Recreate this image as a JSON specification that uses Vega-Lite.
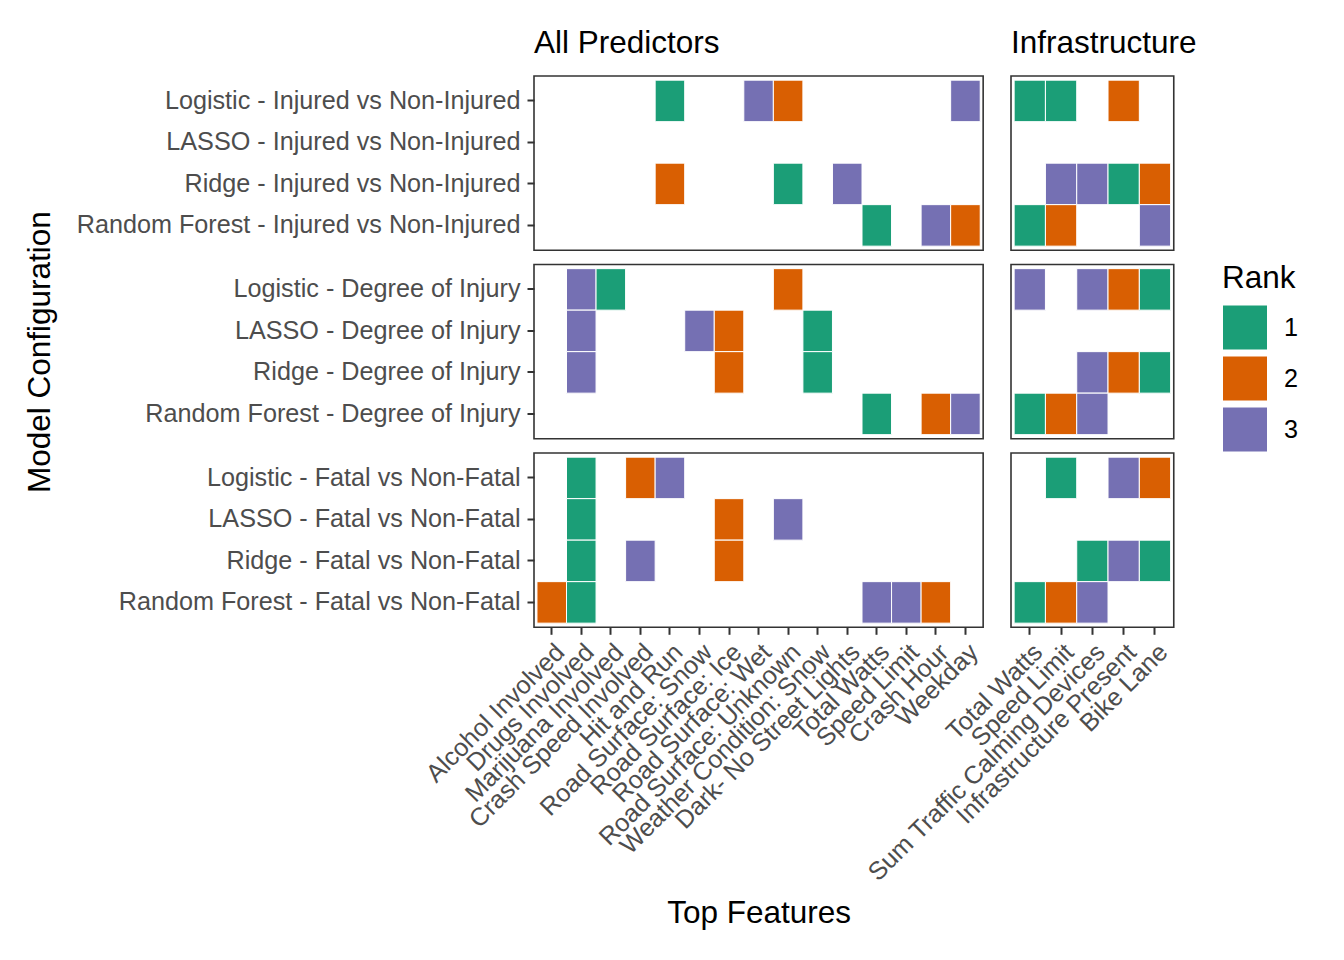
{
  "$schema": "https://vega.github.io/schema/vega-lite/v6.json",
  "padding": {"left": 23, "top": 26, "right": 5, "bottom": 5},
  "background": "white",
  "datasets": {
    "ranks": [
      {"Set": "All Predictors", "Outcome": "Injured vs Non-Injured", "Config": "Logistic - Injured vs Non-Injured", "Feature": "Hit and Run", "Rank": 1},
      {"Set": "All Predictors", "Outcome": "Injured vs Non-Injured", "Config": "Logistic - Injured vs Non-Injured", "Feature": "Road Surface: Wet", "Rank": 3},
      {"Set": "All Predictors", "Outcome": "Injured vs Non-Injured", "Config": "Logistic - Injured vs Non-Injured", "Feature": "Road Surface: Unknown", "Rank": 2},
      {"Set": "All Predictors", "Outcome": "Injured vs Non-Injured", "Config": "Logistic - Injured vs Non-Injured", "Feature": "Weekday", "Rank": 3},
      {"Set": "All Predictors", "Outcome": "Injured vs Non-Injured", "Config": "Ridge - Injured vs Non-Injured", "Feature": "Hit and Run", "Rank": 2},
      {"Set": "All Predictors", "Outcome": "Injured vs Non-Injured", "Config": "Ridge - Injured vs Non-Injured", "Feature": "Road Surface: Unknown", "Rank": 1},
      {"Set": "All Predictors", "Outcome": "Injured vs Non-Injured", "Config": "Ridge - Injured vs Non-Injured", "Feature": "Dark- No Street Lights", "Rank": 3},
      {"Set": "All Predictors", "Outcome": "Injured vs Non-Injured", "Config": "Random Forest - Injured vs Non-Injured", "Feature": "Total Watts", "Rank": 1},
      {"Set": "All Predictors", "Outcome": "Injured vs Non-Injured", "Config": "Random Forest - Injured vs Non-Injured", "Feature": "Crash Hour", "Rank": 3},
      {"Set": "All Predictors", "Outcome": "Injured vs Non-Injured", "Config": "Random Forest - Injured vs Non-Injured", "Feature": "Weekday", "Rank": 2},

      {"Set": "Infrastructure", "Outcome": "Injured vs Non-Injured", "Config": "Logistic - Injured vs Non-Injured", "Feature": "Total Watts", "Rank": 1},
      {"Set": "Infrastructure", "Outcome": "Injured vs Non-Injured", "Config": "Logistic - Injured vs Non-Injured", "Feature": "Speed Limit", "Rank": 1},
      {"Set": "Infrastructure", "Outcome": "Injured vs Non-Injured", "Config": "Logistic - Injured vs Non-Injured", "Feature": "Infrastructure Present", "Rank": 2},
      {"Set": "Infrastructure", "Outcome": "Injured vs Non-Injured", "Config": "Ridge - Injured vs Non-Injured", "Feature": "Speed Limit", "Rank": 3},
      {"Set": "Infrastructure", "Outcome": "Injured vs Non-Injured", "Config": "Ridge - Injured vs Non-Injured", "Feature": "Sum Traffic Calming Devices", "Rank": 3},
      {"Set": "Infrastructure", "Outcome": "Injured vs Non-Injured", "Config": "Ridge - Injured vs Non-Injured", "Feature": "Infrastructure Present", "Rank": 1},
      {"Set": "Infrastructure", "Outcome": "Injured vs Non-Injured", "Config": "Ridge - Injured vs Non-Injured", "Feature": "Bike Lane", "Rank": 2},
      {"Set": "Infrastructure", "Outcome": "Injured vs Non-Injured", "Config": "Random Forest - Injured vs Non-Injured", "Feature": "Total Watts", "Rank": 1},
      {"Set": "Infrastructure", "Outcome": "Injured vs Non-Injured", "Config": "Random Forest - Injured vs Non-Injured", "Feature": "Speed Limit", "Rank": 2},
      {"Set": "Infrastructure", "Outcome": "Injured vs Non-Injured", "Config": "Random Forest - Injured vs Non-Injured", "Feature": "Bike Lane", "Rank": 3},

      {"Set": "All Predictors", "Outcome": "Degree of Injury", "Config": "Logistic - Degree of Injury", "Feature": "Drugs Involved", "Rank": 3},
      {"Set": "All Predictors", "Outcome": "Degree of Injury", "Config": "Logistic - Degree of Injury", "Feature": "Marijuana Involved", "Rank": 1},
      {"Set": "All Predictors", "Outcome": "Degree of Injury", "Config": "Logistic - Degree of Injury", "Feature": "Road Surface: Unknown", "Rank": 2},
      {"Set": "All Predictors", "Outcome": "Degree of Injury", "Config": "LASSO - Degree of Injury", "Feature": "Drugs Involved", "Rank": 3},
      {"Set": "All Predictors", "Outcome": "Degree of Injury", "Config": "LASSO - Degree of Injury", "Feature": "Road Surface: Snow", "Rank": 3},
      {"Set": "All Predictors", "Outcome": "Degree of Injury", "Config": "LASSO - Degree of Injury", "Feature": "Road Surface: Ice", "Rank": 2},
      {"Set": "All Predictors", "Outcome": "Degree of Injury", "Config": "LASSO - Degree of Injury", "Feature": "Weather Condition: Snow", "Rank": 1},
      {"Set": "All Predictors", "Outcome": "Degree of Injury", "Config": "Ridge - Degree of Injury", "Feature": "Drugs Involved", "Rank": 3},
      {"Set": "All Predictors", "Outcome": "Degree of Injury", "Config": "Ridge - Degree of Injury", "Feature": "Road Surface: Ice", "Rank": 2},
      {"Set": "All Predictors", "Outcome": "Degree of Injury", "Config": "Ridge - Degree of Injury", "Feature": "Weather Condition: Snow", "Rank": 1},
      {"Set": "All Predictors", "Outcome": "Degree of Injury", "Config": "Random Forest - Degree of Injury", "Feature": "Total Watts", "Rank": 1},
      {"Set": "All Predictors", "Outcome": "Degree of Injury", "Config": "Random Forest - Degree of Injury", "Feature": "Crash Hour", "Rank": 2},
      {"Set": "All Predictors", "Outcome": "Degree of Injury", "Config": "Random Forest - Degree of Injury", "Feature": "Weekday", "Rank": 3},

      {"Set": "Infrastructure", "Outcome": "Degree of Injury", "Config": "Logistic - Degree of Injury", "Feature": "Total Watts", "Rank": 3},
      {"Set": "Infrastructure", "Outcome": "Degree of Injury", "Config": "Logistic - Degree of Injury", "Feature": "Sum Traffic Calming Devices", "Rank": 3},
      {"Set": "Infrastructure", "Outcome": "Degree of Injury", "Config": "Logistic - Degree of Injury", "Feature": "Infrastructure Present", "Rank": 2},
      {"Set": "Infrastructure", "Outcome": "Degree of Injury", "Config": "Logistic - Degree of Injury", "Feature": "Bike Lane", "Rank": 1},
      {"Set": "Infrastructure", "Outcome": "Degree of Injury", "Config": "Ridge - Degree of Injury", "Feature": "Sum Traffic Calming Devices", "Rank": 3},
      {"Set": "Infrastructure", "Outcome": "Degree of Injury", "Config": "Ridge - Degree of Injury", "Feature": "Infrastructure Present", "Rank": 2},
      {"Set": "Infrastructure", "Outcome": "Degree of Injury", "Config": "Ridge - Degree of Injury", "Feature": "Bike Lane", "Rank": 1},
      {"Set": "Infrastructure", "Outcome": "Degree of Injury", "Config": "Random Forest - Degree of Injury", "Feature": "Total Watts", "Rank": 1},
      {"Set": "Infrastructure", "Outcome": "Degree of Injury", "Config": "Random Forest - Degree of Injury", "Feature": "Speed Limit", "Rank": 2},
      {"Set": "Infrastructure", "Outcome": "Degree of Injury", "Config": "Random Forest - Degree of Injury", "Feature": "Sum Traffic Calming Devices", "Rank": 3},

      {"Set": "All Predictors", "Outcome": "Fatal vs Non-Fatal", "Config": "Logistic - Fatal vs Non-Fatal", "Feature": "Drugs Involved", "Rank": 1},
      {"Set": "All Predictors", "Outcome": "Fatal vs Non-Fatal", "Config": "Logistic - Fatal vs Non-Fatal", "Feature": "Crash Speed Involved", "Rank": 2},
      {"Set": "All Predictors", "Outcome": "Fatal vs Non-Fatal", "Config": "Logistic - Fatal vs Non-Fatal", "Feature": "Hit and Run", "Rank": 3},
      {"Set": "All Predictors", "Outcome": "Fatal vs Non-Fatal", "Config": "LASSO - Fatal vs Non-Fatal", "Feature": "Drugs Involved", "Rank": 1},
      {"Set": "All Predictors", "Outcome": "Fatal vs Non-Fatal", "Config": "LASSO - Fatal vs Non-Fatal", "Feature": "Road Surface: Ice", "Rank": 2},
      {"Set": "All Predictors", "Outcome": "Fatal vs Non-Fatal", "Config": "LASSO - Fatal vs Non-Fatal", "Feature": "Road Surface: Unknown", "Rank": 3},
      {"Set": "All Predictors", "Outcome": "Fatal vs Non-Fatal", "Config": "Ridge - Fatal vs Non-Fatal", "Feature": "Drugs Involved", "Rank": 1},
      {"Set": "All Predictors", "Outcome": "Fatal vs Non-Fatal", "Config": "Ridge - Fatal vs Non-Fatal", "Feature": "Crash Speed Involved", "Rank": 3},
      {"Set": "All Predictors", "Outcome": "Fatal vs Non-Fatal", "Config": "Ridge - Fatal vs Non-Fatal", "Feature": "Road Surface: Ice", "Rank": 2},
      {"Set": "All Predictors", "Outcome": "Fatal vs Non-Fatal", "Config": "Random Forest - Fatal vs Non-Fatal", "Feature": "Alcohol Involved", "Rank": 2},
      {"Set": "All Predictors", "Outcome": "Fatal vs Non-Fatal", "Config": "Random Forest - Fatal vs Non-Fatal", "Feature": "Drugs Involved", "Rank": 1},
      {"Set": "All Predictors", "Outcome": "Fatal vs Non-Fatal", "Config": "Random Forest - Fatal vs Non-Fatal", "Feature": "Total Watts", "Rank": 3},
      {"Set": "All Predictors", "Outcome": "Fatal vs Non-Fatal", "Config": "Random Forest - Fatal vs Non-Fatal", "Feature": "Speed Limit", "Rank": 3},
      {"Set": "All Predictors", "Outcome": "Fatal vs Non-Fatal", "Config": "Random Forest - Fatal vs Non-Fatal", "Feature": "Crash Hour", "Rank": 2},

      {"Set": "Infrastructure", "Outcome": "Fatal vs Non-Fatal", "Config": "Logistic - Fatal vs Non-Fatal", "Feature": "Speed Limit", "Rank": 1},
      {"Set": "Infrastructure", "Outcome": "Fatal vs Non-Fatal", "Config": "Logistic - Fatal vs Non-Fatal", "Feature": "Infrastructure Present", "Rank": 3},
      {"Set": "Infrastructure", "Outcome": "Fatal vs Non-Fatal", "Config": "Logistic - Fatal vs Non-Fatal", "Feature": "Bike Lane", "Rank": 2},
      {"Set": "Infrastructure", "Outcome": "Fatal vs Non-Fatal", "Config": "Ridge - Fatal vs Non-Fatal", "Feature": "Sum Traffic Calming Devices", "Rank": 1},
      {"Set": "Infrastructure", "Outcome": "Fatal vs Non-Fatal", "Config": "Ridge - Fatal vs Non-Fatal", "Feature": "Infrastructure Present", "Rank": 3},
      {"Set": "Infrastructure", "Outcome": "Fatal vs Non-Fatal", "Config": "Ridge - Fatal vs Non-Fatal", "Feature": "Bike Lane", "Rank": 1},
      {"Set": "Infrastructure", "Outcome": "Fatal vs Non-Fatal", "Config": "Random Forest - Fatal vs Non-Fatal", "Feature": "Total Watts", "Rank": 1},
      {"Set": "Infrastructure", "Outcome": "Fatal vs Non-Fatal", "Config": "Random Forest - Fatal vs Non-Fatal", "Feature": "Speed Limit", "Rank": 2},
      {"Set": "Infrastructure", "Outcome": "Fatal vs Non-Fatal", "Config": "Random Forest - Fatal vs Non-Fatal", "Feature": "Sum Traffic Calming Devices", "Rank": 3}
    ]
  },
  "columns": 2,
  "align": "each",
  "bounds": "flush",
  "spacing": {"row": 13.5, "column": 27},
  "concat": [
    {
      "data": {"name": "ranks"},
      "transform": [{"filter": "datum.Set === 'All Predictors' && datum.Outcome === 'Injured vs Non-Injured'"}],
      "title": {"text": "All Predictors"},
      "width": {"step": 29.55},
      "height": {"step": 41.5},
      "mark": {"type": "rect", "stroke": "white", "strokeWidth": 1},
      "encoding": {
        "x": {"field": "Feature", "type": "nominal", "scale": {"domain": ["Alcohol Involved", "Drugs Involved", "Marijuana Involved", "Crash Speed Involved", "Hit and Run", "Road Surface: Snow", "Road Surface: Ice", "Road Surface: Wet", "Road Surface: Unknown", "Weather Condition: Snow", "Dark- No Street Lights", "Total Watts", "Speed Limit", "Crash Hour", "Weekday"], "paddingInner": 0, "paddingOuter": 0.1}, "axis": null},
        "y": {"field": "Config", "type": "nominal", "scale": {"domain": ["Logistic - Injured vs Non-Injured", "LASSO - Injured vs Non-Injured", "Ridge - Injured vs Non-Injured", "Random Forest - Injured vs Non-Injured"], "paddingInner": 0, "paddingOuter": 0.1}, "axis": {"title": null}},
        "color": {"field": "Rank", "type": "nominal", "title": "Rank", "scale": {"domain": [1, 2, 3], "range": ["#1B9E77", "#D95F02", "#7570B3"]}}
      }
    },
    {
      "data": {"name": "ranks"},
      "transform": [{"filter": "datum.Set === 'Infrastructure' && datum.Outcome === 'Injured vs Non-Injured'"}],
      "title": {"text": "Infrastructure"},
      "width": {"step": 31.3},
      "height": {"step": 41.5},
      "mark": {"type": "rect", "stroke": "white", "strokeWidth": 1},
      "encoding": {
        "x": {"field": "Feature", "type": "nominal", "scale": {"domain": ["Total Watts", "Speed Limit", "Sum Traffic Calming Devices", "Infrastructure Present", "Bike Lane"], "paddingInner": 0, "paddingOuter": 0.1}, "axis": null},
        "y": {"field": "Config", "type": "nominal", "scale": {"domain": ["Logistic - Injured vs Non-Injured", "LASSO - Injured vs Non-Injured", "Ridge - Injured vs Non-Injured", "Random Forest - Injured vs Non-Injured"], "paddingInner": 0, "paddingOuter": 0.1}, "axis": null},
        "color": {"field": "Rank", "type": "nominal", "title": "Rank", "scale": {"domain": [1, 2, 3], "range": ["#1B9E77", "#D95F02", "#7570B3"]}}
      }
    },
    {
      "data": {"name": "ranks"},
      "transform": [{"filter": "datum.Set === 'All Predictors' && datum.Outcome === 'Degree of Injury'"}],
      "width": {"step": 29.55},
      "height": {"step": 41.5},
      "mark": {"type": "rect", "stroke": "white", "strokeWidth": 1},
      "encoding": {
        "x": {"field": "Feature", "type": "nominal", "scale": {"domain": ["Alcohol Involved", "Drugs Involved", "Marijuana Involved", "Crash Speed Involved", "Hit and Run", "Road Surface: Snow", "Road Surface: Ice", "Road Surface: Wet", "Road Surface: Unknown", "Weather Condition: Snow", "Dark- No Street Lights", "Total Watts", "Speed Limit", "Crash Hour", "Weekday"], "paddingInner": 0, "paddingOuter": 0.1}, "axis": null},
        "y": {"field": "Config", "type": "nominal", "scale": {"domain": ["Logistic - Degree of Injury", "LASSO - Degree of Injury", "Ridge - Degree of Injury", "Random Forest - Degree of Injury"], "paddingInner": 0, "paddingOuter": 0.1}, "axis": {"title": "Model Configuration", "titleX": -478, "titleY": 87.15, "titleAngle": -90, "titleBaseline": "bottom", "titleAlign": "center"}},
        "color": {"field": "Rank", "type": "nominal", "title": "Rank", "scale": {"domain": [1, 2, 3], "range": ["#1B9E77", "#D95F02", "#7570B3"]}}
      }
    },
    {
      "data": {"name": "ranks"},
      "transform": [{"filter": "datum.Set === 'Infrastructure' && datum.Outcome === 'Degree of Injury'"}],
      "width": {"step": 31.3},
      "height": {"step": 41.5},
      "mark": {"type": "rect", "stroke": "white", "strokeWidth": 1},
      "encoding": {
        "x": {"field": "Feature", "type": "nominal", "scale": {"domain": ["Total Watts", "Speed Limit", "Sum Traffic Calming Devices", "Infrastructure Present", "Bike Lane"], "paddingInner": 0, "paddingOuter": 0.1}, "axis": null},
        "y": {"field": "Config", "type": "nominal", "scale": {"domain": ["Logistic - Degree of Injury", "LASSO - Degree of Injury", "Ridge - Degree of Injury", "Random Forest - Degree of Injury"], "paddingInner": 0, "paddingOuter": 0.1}, "axis": null},
        "color": {"field": "Rank", "type": "nominal", "title": "Rank", "scale": {"domain": [1, 2, 3], "range": ["#1B9E77", "#D95F02", "#7570B3"]}}
      }
    },
    {
      "data": {"name": "ranks"},
      "transform": [{"filter": "datum.Set === 'All Predictors' && datum.Outcome === 'Fatal vs Non-Fatal'"}],
      "width": {"step": 29.55},
      "height": {"step": 41.5},
      "mark": {"type": "rect", "stroke": "white", "strokeWidth": 1},
      "encoding": {
        "x": {"field": "Feature", "type": "nominal", "scale": {"domain": ["Alcohol Involved", "Drugs Involved", "Marijuana Involved", "Crash Speed Involved", "Hit and Run", "Road Surface: Snow", "Road Surface: Ice", "Road Surface: Wet", "Road Surface: Unknown", "Weather Condition: Snow", "Dark- No Street Lights", "Total Watts", "Speed Limit", "Crash Hour", "Weekday"], "paddingInner": 0, "paddingOuter": 0.1}, "axis": {"title": "Top Features", "labelAngle": -45, "titlePadding": 70}},
        "y": {"field": "Config", "type": "nominal", "scale": {"domain": ["Logistic - Fatal vs Non-Fatal", "LASSO - Fatal vs Non-Fatal", "Ridge - Fatal vs Non-Fatal", "Random Forest - Fatal vs Non-Fatal"], "paddingInner": 0, "paddingOuter": 0.1}, "axis": {"title": null}},
        "color": {"field": "Rank", "type": "nominal", "title": "Rank", "scale": {"domain": [1, 2, 3], "range": ["#1B9E77", "#D95F02", "#7570B3"]}}
      }
    },
    {
      "data": {"name": "ranks"},
      "transform": [{"filter": "datum.Set === 'Infrastructure' && datum.Outcome === 'Fatal vs Non-Fatal'"}],
      "width": {"step": 31.3},
      "height": {"step": 41.5},
      "mark": {"type": "rect", "stroke": "white", "strokeWidth": 1},
      "encoding": {
        "x": {"field": "Feature", "type": "nominal", "scale": {"domain": ["Total Watts", "Speed Limit", "Sum Traffic Calming Devices", "Infrastructure Present", "Bike Lane"], "paddingInner": 0, "paddingOuter": 0.1}, "axis": {"title": null, "labelAngle": -45}},
        "y": {"field": "Config", "type": "nominal", "scale": {"domain": ["Logistic - Fatal vs Non-Fatal", "LASSO - Fatal vs Non-Fatal", "Ridge - Fatal vs Non-Fatal", "Random Forest - Fatal vs Non-Fatal"], "paddingInner": 0, "paddingOuter": 0.1}, "axis": null},
        "color": {"field": "Rank", "type": "nominal", "title": "Rank", "scale": {"domain": [1, 2, 3], "range": ["#1B9E77", "#D95F02", "#7570B3"]}}
      }
    }
  ],
  "resolve": {"scale": {"x": "independent", "y": "independent"}},
  "config": {
    "font": "Liberation Sans",
    "view": {"stroke": "#333333", "strokeWidth": 1.6},
    "axis": {"domain": false, "grid": false, "tickColor": "#333333", "tickWidth": 2, "tickSize": 7, "labelFont": "Liberation Sans", "labelFontSize": 25.2, "labelColor": "#4D4D4D", "labelPadding": 5, "labelLimit": 0, "titleFont": "Liberation Sans", "titleFontSize": 31.5, "titleFontWeight": "normal", "titleColor": "black"},
    "axisY": {"labelPadding": 7},
    "title": {"font": "Liberation Sans", "fontSize": 31.5, "fontWeight": "normal", "color": "black", "anchor": "start", "frame": "group", "offset": 17},
    "legend": {"orient": "none", "legendX": 688, "legendY": 187, "titleFont": "Liberation Sans", "titleFontSize": 31.5, "titleFontWeight": "normal", "titleColor": "black", "titlePadding": 10, "labelFont": "Liberation Sans", "labelFontSize": 25.2, "labelColor": "black", "labelOffset": 16, "symbolType": "square", "symbolSize": 2025, "symbolStrokeColor": "white", "symbolStrokeWidth": 1, "symbolOpacity": 1, "rowPadding": 1}
  }
}
